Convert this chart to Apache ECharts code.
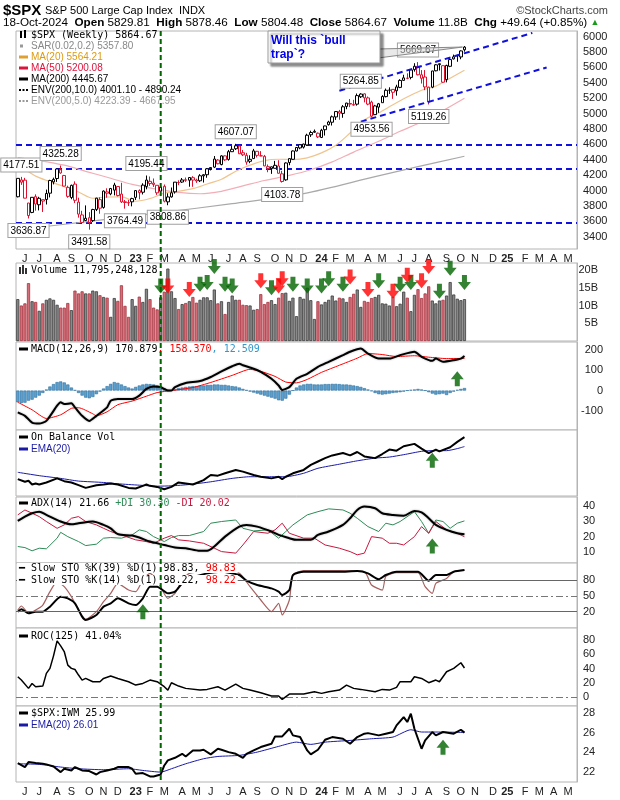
<!DOCTYPE html>
<html><head><meta charset="utf-8">
<script src="https://cdn.jsdelivr.net/npm/echarts/dist/echarts.min.js"></script>
<style>html,body{margin:0;padding:0;background:#fff}#c{width:620px;height:800px}</style>
</head><body><div id="c"></div>
<script>
// ---------- DATA ----------
// weekly OHLC [open, high, low, close], week ending 2022-05-27 ... 2024-10-18
const ohlc = [
[3919.42,4158.49,3911.00,4158.24],[4137.57,4177.51,4073.85,4108.54],[4134.72,4164.86,3900.16,3900.86],[3838.15,3838.15,3636.87,3674.84],
[3715.31,3913.65,3705.68,3911.74],[3920.76,3950.85,3738.67,3825.33],[3815.11,3918.50,3742.06,3899.38],[3880.94,3880.94,3721.56,3863.16],
[3883.79,4012.44,3818.63,3961.63],[3965.72,4140.15,3910.74,4130.29],[4112.38,4167.66,4079.81,4145.19],[4155.93,4280.47,4112.09,4280.15],
[4269.37,4325.28,4218.70,4228.48],[4195.08,4203.04,4057.00,4057.66],[4041.25,4062.99,3906.21,3924.26],[3909.43,4076.81,3886.83,4067.36],
[4083.67,4119.28,3837.08,3873.33],[3849.91,3907.07,3647.47,3693.23],[3682.72,3736.74,3584.13,3585.62],[3609.78,3806.91,3604.40,3639.66],
[3647.00,3719.00,3491.58,3583.07],[3609.00,3762.79,3590.96,3752.75],[3754.22,3905.42,3733.25,3901.06],[3881.85,3911.79,3698.15,3770.55],
[3780.71,4001.48,3764.70,3992.93],[3982.71,4028.84,3906.54,3965.34],[3956.23,4034.02,3938.87,4026.12],[4005.36,4100.51,3937.00,4071.70],
[4052.02,4052.45,3923.94,3934.38],[3954.17,4100.96,3838.00,3852.36],[3853.79,3877.00,3764.49,3844.82],[3843.34,3878.46,3800.00,3839.50],
[3853.29,3906.18,3794.33,3895.08],[3910.82,4003.95,3877.29,3999.09],[3999.28,4015.39,3885.54,3972.61],[3978.14,4094.21,3949.06,4070.56],
[4053.00,4195.44,4015.55,4136.48],[4119.57,4182.67,4060.79,4090.46],[4096.62,4156.77,4047.00,4079.09],[4068.22,4068.22,3943.08,3970.04],
[3992.36,4048.00,3928.16,4045.64],[4055.15,4078.49,3846.32,3861.59],[3853.00,3964.00,3808.86,3916.64],[3917.47,4039.49,3908.00,3970.99],
[3982.93,4110.75,3960.00,4109.31],[4102.20,4133.13,4069.84,4105.02],[4110.29,4163.19,4099.40,4137.64],[4140.00,4169.48,4113.00,4133.52],
[4134.00,4170.06,4049.35,4169.48],[4166.79,4186.92,4048.28,4136.25],[4136.98,4154.28,4098.92,4124.08],[4126.65,4212.91,4110.00,4191.98],
[4190.78,4212.00,4103.98,4205.45],[4205.52,4290.67,4166.15,4282.37],[4282.99,4299.28,4261.07,4298.86],[4304.38,4448.47,4292.00,4409.59],
[4396.00,4408.00,4341.00,4348.33],[4337.36,4458.48,4328.08,4450.38],[4450.48,4456.46,4385.05,4398.95],[4404.54,4527.76,4389.00,4505.42],
[4505.00,4578.43,4502.00,4536.34],[4543.39,4607.07,4527.00,4582.23],[4578.00,4584.62,4474.55,4478.03],[4491.58,4527.37,4448.00,4464.05],
[4458.13,4490.33,4335.31,4369.71],[4380.00,4458.00,4356.00,4405.71],[4415.00,4541.25,4411.00,4515.77],[4510.00,4514.29,4430.00,4457.49],
[4451.30,4511.99,4448.00,4450.32],[4445.00,4463.00,4316.00,4320.06],[4310.62,4338.51,4238.00,4288.05],[4284.52,4311.00,4216.45,4308.50],
[4289.02,4385.46,4289.00,4327.78],[4320.00,4393.57,4223.00,4224.16],[4217.00,4255.84,4103.78,4117.37],[4139.00,4366.00,4127.00,4358.34],
[4364.00,4418.00,4329.00,4415.24],[4406.00,4521.00,4401.00,4514.02],[4514.00,4560.00,4510.00,4559.34],[4554.00,4599.39,4537.00,4594.63],
[4564.00,4609.23,4546.00,4604.37],[4593.00,4738.57,4593.00,4719.19],[4725.00,4778.01,4697.00,4754.63],[4758.00,4793.30,4751.00,4769.83],
[4745.00,4754.33,4682.11,4697.24],[4690.00,4802.40,4682.00,4783.83],[4791.00,4842.07,4714.82,4839.81],[4856.00,4907.00,4845.00,4890.97],
[4888.00,4975.29,4845.15,4958.61],[4957.00,5030.06,4918.00,5026.61],[5026.00,5048.39,4920.31,5005.57],[5003.00,5111.06,4946.00,5088.80],
[5093.00,5140.33,5057.00,5137.08],[5132.00,5189.26,5084.00,5123.69],[5111.00,5179.14,5104.00,5117.09],[5123.00,5261.10,5104.00,5234.18],
[5219.00,5264.85,5203.00,5254.35],[5257.00,5263.00,5146.00,5204.34],[5204.00,5222.00,5107.94,5123.41],[5149.00,5168.00,4953.56,4967.23],
[4987.00,5114.00,4987.00,5099.96],[5084.00,5139.00,5011.00,5127.79],[5142.00,5239.00,5142.00,5222.68],[5221.00,5325.49,5211.00,5303.27],
[5305.00,5341.88,5256.00,5304.72],[5315.00,5315.00,5191.68,5277.51],[5297.00,5375.08,5234.00,5346.99],[5341.00,5447.25,5331.00,5431.60],
[5432.00,5505.53,5428.00,5464.62],[5459.00,5523.64,5447.00,5460.48],[5471.00,5570.33,5446.00,5567.19],[5572.00,5655.56,5546.00,5615.35],
[5615.00,5669.67,5497.00,5505.00],[5505.00,5566.00,5390.95,5459.10],[5476.00,5566.00,5305.00,5346.56],[5151.00,5350.00,5119.26,5344.16],
[5344.00,5556.00,5330.00,5554.25],[5557.00,5643.22,5550.00,5634.61],[5637.00,5651.00,5560.00,5648.40],[5623.00,5623.00,5402.00,5408.42],
[5442.00,5636.00,5406.00,5626.02],[5615.00,5733.57,5604.00,5702.55],[5711.00,5767.37,5704.00,5738.17],[5757.00,5765.00,5674.00,5751.07],
[5737.00,5822.13,5707.00,5815.03],[5829.81,5878.46,5804.48,5864.67]
];
// weekly volume, billions
const volume = [11.8,10.0,10.6,16.3,11.2,11.0,8.5,10.6,11.6,12.0,11.6,10.2,9.4,9.4,10.7,8.7,14.2,13.4,14.0,13.4,13.4,14.2,14.0,12.9,12.4,12.2,6.8,12.1,11.3,15.7,9.9,6.8,
11.8,9.9,12.5,11.0,14.7,11.8,9.4,8.9,12.3,13.9,20.4,14.0,12.1,9.0,10.4,10.7,11.2,12.4,10.8,11.6,12.3,12.3,11.5,14.5,10.6,11.2,7.6,11.0,12.8,11.6,11.6,10.2,10.1,10.0,8.8,9.0,13.2,10.4,11.0,11.5,10.4,12.2,13.5,13.6,11.3,12.2,7.0,12.4,11.9,15.0,11.5,6.2,
11.2,10.3,11.0,11.6,12.8,11.4,12.2,12.0,11.0,12.4,13.3,14.5,9.6,11.3,11.0,12.1,12.4,13.0,10.6,10.5,10.0,12.5,9.8,10.5,13.9,12.2,8.4,13.0,14.6,12.1,13.4,15.4,11.4,10.6,11.4,11.6,12.8,16.6,13.1,11.9,11.5,11.8];
// moving averages [week index, value]
const ma20 = [[0,4330],[1,4308],[5,4187],[9,4116],[13,4050],[17,3981],[21,3900],[25,3916],[29,3917],[33,3861],[37,3896],[41,3966],[45,3990],[49,4024],[53,4085],[57,4147],[61,4251],[65,4331],[69,4390],[73,4407],[77,4402],[81,4425],[85,4489],[89,4588],[93,4748],[97,4918],[101,5010],[105,5115],[109,5215],[113,5304],[117,5358],[121,5461],[125,5564]];
const ma50 = [[0,4428],[6,4390],[13,4330],[19,4250],[26,4160],[32,4080],[38,4026],[45,3975],[51,3958],[57,3990],[63,4060],[69,4130],[76,4197],[82,4270],[88,4372],[94,4500],[101,4641],[107,4770],[113,4891],[119,5040],[125,5200]];
const ma200 = [[0,3490],[20,3600],[40,3712],[60,3830],[80,3960],[100,4180],[112,4310],[125,4446]];
// support lines & channel
const supportLevels = [4590, 4285, 3580];
const channelUpper = [[90,5298],[144,6049]];
const channelLower = [[96,4896],[148,5600]];
// labelled highs/lows [week index, value, side]
const pivots = [[1,4177.51,'top'],[3,3636.87,'bottom'],[12,4325.28,'top'],[20,3491.58,'bottom'],[30,3764.49,'bottom'],[36,4195.44,'top'],[42,3808.86,'bottom'],[61,4607.07,'top'],[74,4103.78,'bottom'],[96,5264.85,'top'],[99,4953.56,'bottom'],[112,5669.67,'top'],[115,5119.26,'bottom']];
// MACD
const macdLine = [[0,-108],[2,-125],[4,-158],[6,-163],[8,-150],[11,-75],[12,-58],[13,-67],[15,-63],[16,-83],[18,-125],[20,-150],[22,-125],[25,-83],[26,-50],[28,-42],[32,-42],[34,-25],[36,8],[38,20],[40,17],[42,0],[43,0],[44,17],[47,37],[51,47],[54,67],[57,95],[60,120],[62,133],[63,125],[66,108],[68,92],[71,58],[73,25],[74,3],[76,17],[78,58],[81,83],[84,117],[87,142],[91,175],[93,192],[96,208],[98,183],[101,158],[104,158],[107,175],[111,192],[113,167],[116,147],[117,158],[119,142],[122,150],[124,158],[125,170.9]];
const macdSignal = [[0,-58],[4,-95],[8,-138],[12,-120],[15,-88],[17,-85],[21,-115],[22,-125],[25,-105],[28,-70],[32,-52],[36,-28],[39,-10],[43,0],[49,15],[54,40],[60,75],[65,105],[68,95],[72,70],[75,42],[78,38],[81,55],[85,90],[90,125],[95,160],[98,183],[102,178],[106,168],[111,172],[115,165],[120,158],[125,158.4]];
const macdHist = [-58,-62,-60,-50,-45,-35,-25,-12,5,20,32,42,45,40,30,15,2,-12,-25,-35,-38,-32,-18,-5,10,22,33,42,38,30,22,15,10,18,25,30,33,32,30,25,20,10,2,0,5,12,15,18,20,22,22,25,25,28,28,30,30,28,28,25,22,20,15,8,2,-5,-10,-15,-20,-25,-30,-35,-40,-48,-50,-40,-20,0,15,25,30,33,33,30,30,30,32,32,33,33,32,30,30,28,25,22,18,12,5,-3,-12,-18,-20,-18,-15,-12,-10,-8,-5,0,3,5,8,5,0,-8,-15,-20,-18,-15,-22,-12,-5,3,8,12.5];
// On Balance Volume (relative scale)
const obv = [[0,25.6],[2,21.5],[3,23],[4,17.4],[5,19],[6,17.4],[8,20.5],[11,26.7],[13,22.5],[15,20.5],[17,16.4],[19,12.3],[22,16.4],[24,17.4],[26,19],[28,17.4],[31,12.3],[33,11.3],[35,15.4],[36,17.4],[37,15.4],[39,13.8],[41,10.3],[43,13.8],[45,20.5],[47,19],[49,17.4],[52,24],[54,31.8],[56,30.8],[58,34.4],[61,39.5],[63,36.9],[66,31.8],[68,29.2],[71,26.7],[73,29.2],[74,25.6],[75,29.2],[77,34.4],[80,39.5],[82,47.2],[84,52.3],[86,57.4],[88,61.5],[91,65.1],[93,61.5],[95,66.7],[97,60],[100,57.4],[102,63.6],[104,70.3],[106,68.7],[108,75.4],[111,79],[113,71.8],[115,65.1],[117,70.3],[118,67.7],[121,73.8],[123,82],[125,89.2]];
const obvEma = [[0,35.9],[6,30.8],[12,26.7],[17,22.6],[24,20.5],[28,18.5],[34,16.4],[39,14.9],[43,15.4],[48,17.4],[54,21.5],[60,26.7],[65,29.2],[71,29.2],[75,29.2],[80,34.4],[84,42],[90,48.2],[95,53.3],[100,57.4],[104,59],[108,62.6],[113,67.7],[116,68.7],[120,68.7],[123,71.8],[125,74.9]];
// ADX(14)
const adx = [[0,30.3],[2,33.1],[4,35.3],[6,36.3],[8,34.2],[12,29.9],[15,28.1],[17,28.8],[21,29.9],[24,27.7],[26,25.5],[28,21.7],[32,20.8],[34,19.5],[37,16.9],[41,14.7],[44,13],[47,12.6],[51,10.9],[53,10.9],[55,13.7],[58,20.1],[62,26.6],[64,27.7],[67,26.6],[71,23.4],[73,21.2],[76,19.1],[78,18],[82,18],[84,21.2],[87,23.4],[91,27.7],[93,32],[95,37.4],[97,39.6],[100,38.5],[102,35.3],[105,34.2],[108,33.7],[111,36.8],[113,35.9],[115,32],[117,27.7],[120,24.5],[123,22.3],[125,21.66]];
const plusDI = [[0,13.7],[2,13],[4,10.9],[6,12.6],[8,12.2],[11,19.1],[12,22.9],[14,20.1],[17,16.9],[19,14.3],[22,15.2],[24,19.1],[26,19.5],[29,19.1],[32,21.2],[34,24.5],[36,23.4],[38,20.1],[41,16.9],[43,19.5],[45,20.8],[48,20.8],[52,23.4],[54,28.8],[57,29.9],[61,30.9],[63,25.5],[66,23.8],[70,24.5],[73,19.1],[75,23.4],[77,27.7],[81,34.2],[84,36.3],[87,38.1],[91,37.4],[93,35.3],[95,32],[98,26.6],[101,23.4],[103,28.8],[105,27.7],[107,29.9],[111,36.3],[113,29.9],[115,22.3],[116,26.6],[117,30.9],[119,29.9],[121,25.5],[123,28.8],[125,30.3]];
const minusDI = [[0,34.2],[2,37.4],[4,35.3],[6,33.1],[8,29.9],[11,25.5],[13,27.7],[15,32],[17,33.1],[19,29.9],[22,27.7],[24,25.5],[26,23.4],[29,21.2],[33,18],[36,16.9],[38,15.8],[41,19.1],[43,20.8],[45,18],[48,17.3],[52,15.8],[55,12.6],[57,10.4],[61,9.4],[63,14.7],[66,23.4],[70,22.3],[72,24.5],[74,28.8],[76,22.3],[80,19.1],[83,19.1],[86,14.7],[90,12.6],[93,10.4],[95,8.3],[97,9.4],[99,20.1],[102,19.1],[104,15.8],[106,15.8],[108,14.7],[111,20.1],[113,26.6],[115,22.3],[117,29.9],[120,24.5],[123,22.3],[125,20.02]];
// Slow stochastics
const sto39 = [[0,20],[1,24.4],[3,16.8],[5,20],[7,20],[9,29.5],[12,48.4],[14,45.3],[16,35.8],[18,10.5],[19,4.2],[22,13.7],[24,29.5],[26,35.8],[28,45.3],[31,35.8],[33,32.6],[35,45.3],[37,67.4],[39,67.4],[42,54.7],[44,57.9],[46,73.7],[48,83],[53,92.6],[57,95.8],[62,89.5],[64,78.7],[67,70.5],[71,64.2],[73,57.9],[74,51.6],[76,61],[77,89.5],[80,95.8],[84,95.8],[90,95.8],[95,97],[98,92.6],[101,81.3],[103,89.5],[106,95.8],[112,95.8],[115,78.7],[117,89.5],[120,89.5],[122,95.8],[125,98.83]];
const sto14 = [[0,23],[1,30.7],[3,16.8],[5,23],[7,32.6],[9,57.9],[11,76.8],[13,67.4],[15,48.4],[17,23],[19,5.5],[22,20],[24,38.9],[26,54.7],[28,73.7],[31,61],[33,57.9],[35,80],[37,92.6],[39,80],[42,45.3],[44,54.7],[46,80],[48,92.6],[53,95.8],[57,95.8],[62,92.6],[65,67.4],[68,42.1],[71,20],[73,35.8],[74,13.7],[76,42.1],[77,89.5],[80,97.7],[90,97.7],[97,95.8],[99,70.5],[102,61],[103,86.9],[106,93.9],[112,93.9],[114,67.4],[116,54.7],[117,73.7],[120,83],[122,95.8],[125,98.22]];
// ROC(125)
const roc = [[0,28.8],[1,24.2],[3,12.6],[4,19.5],[5,14.9],[7,15.8],[8,33.5],[9,40.5],[10,58],[11,79],[12,72],[13,64],[14,45],[15,40.5],[16,39],[17,31.2],[18,24.2],[19,26.5],[21,21.9],[23,21.9],[24,26.5],[26,29.8],[28,26.5],[31,21.9],[33,17.2],[35,19.5],[37,24.2],[39,21.9],[41,14.9],[42,10.2],[43,20.5],[45,15.8],[47,12.6],[51,10.2],[53,11.2],[56,14.9],[58,10.2],[61,18.6],[63,12.6],[65,10.2],[68,6.5],[71,1.9],[73,1.9],[74,-2.8],[76,4.7],[80,4.7],[83,7.9],[85,5.6],[87,7.9],[90,10.2],[92,17.2],[94,12.6],[96,11.2],[100,7.9],[102,11.2],[104,10.2],[106,14],[107,21.9],[110,21.9],[111,28.8],[113,26.5],[115,20.5],[117,24.2],[118,21.9],[120,35.8],[122,40.5],[124,48.4],[125,41.04]];
// $SPX:IWM ratio
const ratio = [[0,22.91],[2,22.51],[3,23.01],[5,22.91],[7,22.84],[8,22.78],[10,22.57],[12,22.0],[13,22.34],[15,22.17],[16,22.51],[17,22.34],[18,22.17],[20,22.1],[22,21.76],[23,22.0],[25,22.17],[27,22.34],[28,22.51],[31,22.51],[32,22.34],[33,21.83],[35,21.9],[37,21.56],[38,21.56],[40,21.76],[41,22.67],[42,23.18],[44,23.45],[46,23.85],[47,23.58],[49,24.19],[51,24.19],[52,24.26],[54,23.79],[56,24.36],[57,24.26],[59,24.02],[61,23.85],[63,23.45],[64,23.85],[66,24.19],[68,24.53],[71,24.87],[72,25.61],[74,25.61],[76,26.38],[77,25.71],[79,25.54],[81,24.19],[82,23.79],[84,24.26],[86,25.27],[88,25.54],[91,25.37],[93,24.87],[95,25.54],[97,25.88],[98,25.94],[101,25.71],[103,25.88],[105,26.05],[106,26.72],[108,27.56],[109,27.06],[110,27.9],[111,26.38],[113,24.36],[114,25.2],[116,26.05],[117,25.71],[119,26.05],[122,25.88],[124,26.28],[125,25.99]];
const ratioEma = [[0,22.84],[6,22.78],[12,22.51],[17,22.34],[24,22.24],[31,22.34],[35,22.17],[40,22.0],[43,22.34],[47,22.84],[52,23.35],[56,23.58],[62,23.69],[67,24.02],[73,24.6],[78,25.03],[82,24.8],[86,25.03],[93,25.2],[99,25.37],[105,25.54],[110,26.28],[113,26.05],[117,26.05],[125,26.01]];
// annotation arrows [week index, value]
const volGreenArrows = [[40,15.5],[51,16],[53,16.5],[55,21],[58,16],[60,15.5],[71,15],[77,16],[81,15.5],[85,15.5],[87,17.5],[91,16],[101,17],[107,16],[110,16.5],[118,14],[121,20.5],[125,16.5]];
const volRedArrows = [[42,15.5],[48,14.5],[68,17],[73,15.5],[74,17.5],[93,18],[98,14.5],[105,14],[109,18.5],[113,17],[115,21]];
const macdArrow = [[123,58]], obvArrow = [[116,54]], adxArrow = [[116,14]], stoArrow = [[35,20]], ratioArrow = [[119,24.5]];
const markerWeek = 40; // vertical marker (early Mar 2023)

// ---------- CATEGORIES ----------
const NWEEKS = 157;
const t0 = Date.UTC(2022,4,27);
const dates = [];
for (let i=0;i<NWEEKS;i++) dates.push(new Date(t0 + i*7*86400000));
const cats = dates.map(d=>d.toISOString().slice(0,10));
const MON = ['J','F','M','A','M','J','J','A','S','O','N','D'];
function monthLabel(i){
  if(i===0) return '';
  const m = dates[i].getUTCMonth();
  if(m===dates[i-1].getUTCMonth()) return '';
  if(m===0) return '{y|'+String(dates[i].getUTCFullYear()).slice(2)+'}';
  return MON[m];
}

// ---------- LAYOUT ----------
const GL=16, GW=561;
const panels=[{top:31,height:218},{top:263,height:78},{top:342,height:88},{top:430,height:66},{top:497,height:66},{top:563,height:65},{top:628,height:78},{top:706,height:76}];
const SANS='"Liberation Sans", Arial, sans-serif';
const MONO='"DejaVu Sans Mono", monospace';

const xLabel={show:true,interval:0,margin:4,fontSize:11,fontFamily:SANS,color:'#222',padding:[0,0,0,7],
  formatter:(v,i)=>monthLabel(i),rich:{y:{fontWeight:'bold',fontSize:11,fontFamily:SANS,color:'#222'}}};

function yAx(i,min,max,interval,fmt,align,margin){
  return {type:'value',gridIndex:i,position:'right',min,max,interval,scale:false,
    axisLine:{show:true,lineStyle:{color:'#b4b4b4'}},axisTick:{show:false},splitLine:{show:false},
    axisLabel:{show:!!fmt,formatter:fmt||'',align:align||'left',margin:margin||5,fontSize:11,color:'#222',fontFamily:SANS}};
}
const isMult=(v,m)=>Math.abs(v/m-Math.round(v/m))<1e-6;

const yAxes=[
  yAx(0,3240,6074,40,v=>(isMult(v,200)&&v>=3399&&v<=6001)?String(Math.round(v)):'' ,'left',6),
  yAx(1,0,21.97,5,v=>(v>0.1&&isMult(v,5))?Math.round(v)+'B':'','right',21),
  yAx(2,-195,240,5,v=>isMult(v,100)?String(Math.round(v)):'','right',26),
  yAx(3,0,100,10,null),
  yAx(4,3,45.8,1,v=>(isMult(v,10))?String(Math.round(v)):'','left',6),
  yAx(5,-11,112.3,1,v=>(Math.round(v)===80||Math.round(v)===50||Math.round(v)===20)&&isMult(v,1)?String(Math.round(v)):'','left',6),
  yAx(6,-12,96.9,4,v=>(isMult(v,20)&&v>=-0.1&&v<=80.1)?String(Math.round(v)):'','left',6),
  yAx(7,21,28.68,1,v=>(isMult(v,2))?String(Math.round(v)):'','left',6)
];

const xAxes=panels.map((p,i)=>({type:'category',gridIndex:i,data:cats,boundaryGap:true,
  axisLine:{show:false},axisTick:{show:false},splitLine:{show:false},
  axisLabel:(i===0||i===7)?xLabel:{show:false}}));

function ln(grid,data,color,width,extra){
  return Object.assign({type:'line',xAxisIndex:grid,yAxisIndex:grid,data,showSymbol:false,symbol:'none',
    lineStyle:{color,width},silent:true,z:3},extra||{});
}
const DOWN='path://M4,0 L9,0 L9,7 L13,7 L6.5,15 L0,7 L4,7 Z';
const UP='path://M6.5,0 L13,8 L9,8 L9,15 L4,15 L4,8 L0,8 Z';
function arrows(grid,data,color,path){
  return {type:'scatter',xAxisIndex:grid,yAxisIndex:grid,data,symbol:path,symbolSize:[13,15],symbolKeepAspect:false,
    itemStyle:{color},silent:true,z:6};
}

// candles coloured StockCharts-style
const candleData=ohlc.map((r,i)=>{
  const [o,h,l,c]=r; const prev=i>0?ohlc[i-1][3]:o;
  const col=c<prev?'#e0102f':'#000';
  return {value:[o,c,l,h],itemStyle:{color:'#fff',color0:col,borderColor:col,borderColor0:col,borderWidth:1}};
});
const volData=volume.map((v,i)=>{
  const down=i>0&&ohlc[i][3]<ohlc[i-1][3];
  return {value:v,itemStyle:{color:down?'#d26f79':'#8a8a8a',borderColor:down?'#a8323f':'#3a3a3a',borderWidth:0.8}};
});

const pivotMarks=pivots.map(p=>({coord:[p[0],p[1]],value:p[1].toFixed(2),
  label:{position:p[2],distance:5}}));

const series=[
  ln(0,ma200,'#a9a9a9',1.2,{smooth:0.3}),
  ln(0,ma50,'#f2aeb6',1.2,{smooth:0.3}),
  ln(0,ma20,'#f0c48e',1.2,{smooth:0.3}),
  {type:'candlestick',xAxisIndex:0,yAxisIndex:0,data:candleData,barWidth:3,z:4,silent:true,
   markLine:{silent:true,symbol:['none','none'],label:{show:false},
     lineStyle:{color:'#1010e0',width:2,type:[6,4]},data:supportLevels.map(v=>({yAxis:v})),z:3},
   markPoint:{silent:true,symbol:'rect',symbolSize:1,itemStyle:{color:'rgba(0,0,0,0)'},
     label:{show:true,formatter:p=>p.value,backgroundColor:'#fff',borderColor:'#a0a0a0',borderWidth:1,
       padding:[2,2,1,2],fontSize:10,fontFamily:SANS,color:'#000'},data:pivotMarks,z:8}},
  ln(0,channelUpper,'#1010e0',2,{lineStyle:{color:'#1010e0',width:2,type:[6,4]},z:5}),
  ln(0,channelLower,'#1010e0',2,{lineStyle:{color:'#1010e0',width:2,type:[6,4]},z:5}),
  {type:'bar',xAxisIndex:1,yAxisIndex:1,data:volData,barCategoryGap:'12%',silent:true},
  arrows(1,volGreenArrows,'#006400',DOWN),
  arrows(1,volRedArrows,'#ff0000',DOWN),
  {type:'bar',xAxisIndex:2,yAxisIndex:2,data:macdHist,barCategoryGap:'10%',silent:true,
   itemStyle:{color:'#5aa0d0',borderColor:'#2d6f9e',borderWidth:0.6}},
  ln(2,macdSignal,'#ff0000',1,{smooth:0.2}),
  ln(2,macdLine,'#000',2,{smooth:0.2,lineStyle:{color:'#000',width:2,shadowColor:'rgba(0,0,0,0.35)',shadowBlur:2}}),
  arrows(2,macdArrow,'#006400',UP),
  ln(3,obvEma,'#1a1aa6',1,{smooth:0.2}),
  ln(3,obv,'#000',2),
  arrows(3,obvArrow,'#006400',UP),
  ln(4,plusDI,'#2e8b57',1),
  ln(4,minusDI,'#c8173e',1),
  ln(4,adx,'#000',2,{smooth:0.3,lineStyle:{color:'#000',width:2,shadowColor:'rgba(0,0,0,0.35)',shadowBlur:2}}),
  arrows(4,adxArrow,'#006400',UP),
  ln(5,sto14,'#a86060',1.2,{smooth:0.2,
     markLine:{silent:true,symbol:['none','none'],label:{show:false},data:[
       {yAxis:80,lineStyle:{color:'#666',width:1,type:'solid'}},
       {yAxis:50,lineStyle:{color:'#777',width:1,type:[7,3,2,3]}},
       {yAxis:20,lineStyle:{color:'#666',width:1,type:'solid'}}]}}),
  ln(5,sto39,'#000',2,{smooth:0.2}),
  arrows(5,stoArrow,'#006400',UP),
  ln(6,roc,'#000',1.5,{markLine:{silent:true,symbol:['none','none'],label:{show:false},
     data:[{yAxis:0,lineStyle:{color:'#777',width:1,type:[7,3,2,3]}}]}}),
  ln(7,ratioEma,'#1a1aa6',1,{smooth:0.2}),
  ln(7,ratio,'#000',2),
  arrows(7,ratioArrow,'#006400',UP)
];

// ---------- TEXT / LEGENDS ----------
const G=[];
function txt(x,y,text,font,fill,extra){G.push({type:'text',z:50,silent:true,style:Object.assign({x,y,text,font,fill,verticalAlign:'middle'},extra||{})});}
function dash(y,color){G.push({type:'rect',z:50,silent:true,shape:{x:19,y:y-1.5,width:9,height:3},style:{fill:color}});}
function dots(y,color){for(let k=0;k<3;k++)G.push({type:'rect',z:50,silent:true,shape:{x:19+k*3.5,y:y-1,width:2,height:2},style:{fill:color}});}
// header
txt(3,11,'$SPX','bold 15px '+SANS,'#000');
txt(45,11,'S&P 500 Large Cap Index  INDX','11px '+SANS,'#000');
txt(608,11,'\u00A9StockCharts.com','11px '+SANS,'#444',{align:'right'});
const HF='11.7px '+SANS, HB='bold 11.7px '+SANS;
txt(3,23,'{n|18-Oct-2024}  {b|Open} {n|5829.81}  {b|High} {n|5878.46}  {b|Low} {n|5804.48}  {b|Close} {n|5864.67}  {b|Volume} {n|11.8B}  {b|Chg} {n|+49.64 (+0.85%)} {g|\u25B2}',
  HF,'#000',{rich:{n:{font:HF,fill:'#000'},b:{font:HB,fill:'#000'},g:{font:'9px '+SANS,fill:'#1a9a1a'}}});
// price legend
G.push({type:'rect',z:50,silent:true,shape:{x:20,y:31,width:2,height:7},style:{fill:'#000'}});
G.push({type:'rect',z:50,silent:true,shape:{x:24,y:30,width:2,height:8},style:{fill:'#000'}});
txt(31,35,'$SPX (Weekly) 5864.67','10px '+MONO,'#000');
G.push({type:'rect',z:50,silent:true,shape:{x:20,y:44.5,width:3,height:3},style:{fill:'#999'}});
txt(31,46,'SAR(0.02,0.2) 5357.80','10px '+SANS,'#888');
dash(57,'#e0a030'); txt(31,57,'MA(20) 5564.21','10px '+SANS,'#dd9a10');
dash(68,'#dc143c'); txt(31,68,'MA(50) 5200.08','10px '+SANS,'#dc143c');
dash(79,'#000'); txt(31,79,'MA(200) 4445.67','10px '+SANS,'#000');
dots(90,'#000'); txt(31,90,'ENV(200,10.0) 4001.10 - 4890.24','10px '+SANS,'#000');
dots(101,'#999'); txt(31,101,'ENV(200,5.0) 4223.39 - 4667.95','10px '+SANS,'#999');
// volume legend
G.push({type:'rect',z:50,silent:true,shape:{x:19,y:267,width:2,height:7},style:{fill:'#333'}});
G.push({type:'rect',z:50,silent:true,shape:{x:22,y:265,width:2,height:9},style:{fill:'#333'}});
G.push({type:'rect',z:50,silent:true,shape:{x:25,y:268,width:2,height:6},style:{fill:'#333'}});
txt(31,270,'Volume 11,795,248,128','10px '+MONO,'#000');
// MACD
dash(349,'#000');
txt(31,349,'{k|MACD(12,26,9) 170.879}{r|, 158.370}{b|, 12.509}','10px '+MONO,'#000',{rich:{k:{font:'10px '+MONO,fill:'#000'},r:{font:'10px '+MONO,fill:'#ff0000'},b:{font:'10px '+MONO,fill:'#3399cc'}}});
// OBV
dash(437,'#000'); txt(31,437,'On Balance Vol','10px '+MONO,'#000');
dash(449,'#1a1aa6'); txt(31,449,'EMA(20)','10px '+SANS,'#1a1aa6');
// ADX
dash(503,'#000');
txt(31,503,'{k|ADX(14) 21.66 }{g|+DI 30.30 }{r|-DI 20.02}','10px '+MONO,'#000',{rich:{k:{font:'10px '+MONO,fill:'#000'},g:{font:'10px '+MONO,fill:'#2e8b57'},r:{font:'10px '+MONO,fill:'#c8173e'}}});
// STO
txt(17,568,'{k|\u2501 Slow STO %K(39) %D(1) 98.83, }{r|98.83}','10px '+MONO,'#000',{backgroundColor:'#fff',padding:[0,2,0,2],rich:{k:{font:'10px '+MONO,fill:'#000'},r:{font:'10px '+MONO,fill:'#ff0000'}}});
txt(17,580,'{k|\u2501 Slow STO %K(14) %D(1) 98.22, }{r|98.22}','10px '+MONO,'#000',{backgroundColor:'#fff',padding:[0,2,0,2],rich:{k:{font:'10px '+MONO,fill:'#000'},r:{font:'10px '+MONO,fill:'#ff0000'}}});
// ROC
dash(636,'#000'); txt(31,636,'ROC(125) 41.04%','10px '+MONO,'#000');
// ratio
dash(713,'#000'); txt(31,713,'$SPX:IWM 25.99','10px '+MONO,'#000');
dash(725,'#1a1aa6'); txt(31,725,'EMA(20) 26.01','10px '+SANS,'#1a1aa6');

const chart=echarts.init(document.getElementById('c'),null,{renderer:'canvas',width:620,height:800});
chart.setOption({
  animation:false,backgroundColor:'#fff',
  grid:panels.map(p=>({left:GL,width:GW,top:p.top,height:p.height,show:true,borderColor:'#b4b4b4',borderWidth:1,backgroundColor:'#fff'})),
  xAxis:xAxes,yAxis:yAxes,series,
  graphic:{elements:G}
});

// vertical marker and callout, positioned through the axes
const mx=chart.convertToPixel({xAxisIndex:0},cats[markerWeek]);
const tip=chart.convertToPixel({gridIndex:0},[cats[ohlc.length-1],ohlc[ohlc.length-1][1]]);
const extra=[
  {type:'line',z:60,silent:true,shape:{x1:mx,y1:31,x2:mx,y2:782},style:{stroke:'#006400',lineWidth:2,lineDash:[5,3]}},
  {type:'polygon',z:55,silent:true,shape:{points:[[378,49],[378,58],[tip[0]-2,tip[1]+1]]},style:{fill:'rgba(215,215,215,0.55)',stroke:'#888',lineWidth:1}},
  {type:'rect',z:56,silent:true,shape:{x:268,y:31,width:112,height:32},style:{fill:'#fff',stroke:'#999',lineWidth:1,shadowColor:'rgba(0,0,0,0.45)',shadowBlur:2,shadowOffsetX:3,shadowOffsetY:3}},
  {type:'text',z:57,silent:true,style:{x:271,y:34,text:'Will this `bull\ntrap`?',font:'bold 12px '+SANS,fill:'#0000ee',lineHeight:14}}
];
chart.setOption({graphic:{elements:G.concat(extra)}});
</script></body></html>
